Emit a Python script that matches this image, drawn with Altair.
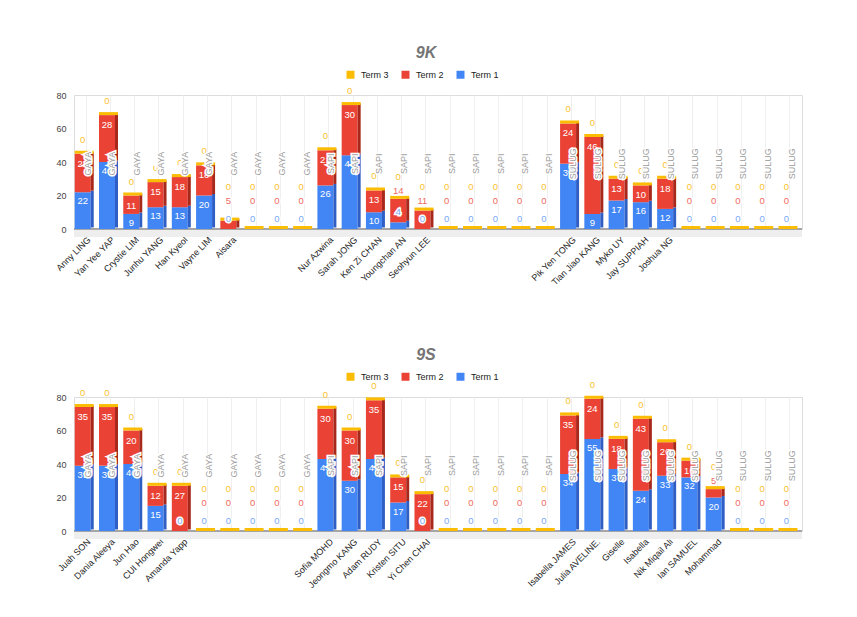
import json
import altair as alt
import pandas as pd

# ---------------- data ----------------
K_NAMES = ["Anny LING", "Yan Yee YAP", "Crystie LIM", "Junhu YANG", "Han Kyeol", "Vayne LIM", "Aisara", "", "", "",
           "Nur Azwina", "Sarah JONG", "Ken Zi CHAN", "Youngchan AN", "Seohyun LEE", "", "", "", "", "",
           "Pik Yen TONG", "Tian Jiao KANG", "Myko UY", "Jay SUPPIAH", "Joshua NG", "", "", "", "", ""]
K_TERM1 = [22, 40, 9, 13, 13, 20, 0, 0, 0, 0,
           26, 44, 10, 4, 0, 0, 0, 0, 0, 0,
           39, 9, 17, 16, 12, 0, 0, 0, 0, 0]
K_TERM2 = [23, 28, 11, 15, 18, 18, 5, 0, 0, 0,
           21, 30, 13, 14, 11, 0, 0, 0, 0, 0,
           24, 46, 13, 10, 18, 0, 0, 0, 0, 0]
K_TERM3 = [0, 0, 0, 0, 0, 0, 0, 0, 0, 0,
           0, 0, 0, 0, 0, 0, 0, 0, 0, 0,
           0, 0, 0, 0, 0, 0, 0, 0, 0, 0]
K_GROUP = ["GAYA", "GAYA", "GAYA", "GAYA", "GAYA", "GAYA", "GAYA", "GAYA", "GAYA", "GAYA",
           "SAPI", "SAPI", "SAPI", "SAPI", "SAPI", "SAPI", "SAPI", "SAPI", "SAPI", "SAPI",
           "SULUG", "SULUG", "SULUG", "SULUG", "SULUG", "SULUG", "SULUG", "SULUG", "SULUG", "SULUG"]

S_NAMES = ["Juah SON", "Dania Aleeya", "Jun Hao", "CUI Hongwei", "Amanda Yapp", "", "", "", "", "",
           "Sofia MOHD", "Jeongmo KANG", "Adam RUDY", "Kristen SITU", "Yi Chen CHAI", "", "", "", "", "",
           "Isabella JAMES", "Julia AVELINE.", "Giselle", "Isabella", "Nik Miqail Ali", "Ian SAMUEL", "Mohammad", "", "", ""]
S_TERM1 = [39, 39, 40, 15, 0, 0, 0, 0, 0, 0,
           43, 30, 43, 17, 0, 0, 0, 0, 0, 0,
           34, 55, 37, 24, 33, 32, 20, 0, 0, 0]
S_TERM2 = [35, 35, 20, 12, 27, 0, 0, 0, 0, 0,
           30, 30, 35, 15, 22, 0, 0, 0, 0, 0,
           35, 24, 18, 43, 20, 10, 5, 0, 0, 0]
S_TERM3 = [0, 0, 0, 0, 0, 0, 0, 0, 0, 0,
           0, 0, 0, 0, 0, 0, 0, 0, 0, 0,
           0, 0, 0, 0, 0, 0, 0, 0, 0, 0]
S_GROUP = ["GAYA", "GAYA", "GAYA", "GAYA", "GAYA", "GAYA", "GAYA", "GAYA", "GAYA", "GAYA",
           "SAPI", "SAPI", "SAPI", "SAPI", "SAPI", "SAPI", "SAPI", "SAPI", "SAPI", "SAPI",
           "SULUG", "SULUG", "SULUG", "SULUG", "SULUG", "SULUG", "SULUG", "SULUG", "SULUG", "SULUG"]

TERMS = ["Term 3", "Term 2", "Term 1"]
Y_TICKS = [0, 20, 40, 60, 80]

# ---------------- styles ----------------
YELLOW, RED, BLUE = "#fbbc04", "#ea4335", "#4285f4"
DARK_RED, DARK_BLUE = "#a9281c", "#2f5fc4"
LIGHT_RED, LIGHT_BLUE, LIGHT_YELLOW = "#ef6a5f", "#7aa9f7", "#fbc12e"
FONT = "Liberation Sans"
W, H = 728, 134
FRONT_W, FRONT_X = 16, -3.4
GROUP_LEVEL = 39


def panel(title, names, t1, t2, t3, groups):
    n = len(names)
    wide = pd.DataFrame({"idx": list(range(n)), "t1": t1, "t2": t2, "t3": t3, "grp": groups})
    wide["total"] = wide["t1"] + wide["t2"] + wide["t3"]
    wide["blue_in"] = wide["t1"] >= 8
    wide["red_in"] = (wide["t2"] >= 8) & (wide["blue_in"] | (wide["total"] >= wide["t1"] + 19))
    wide["red_out_y"] = wide["total"].clip(lower=12)

    segs = pd.concat([
        pd.DataFrame({"idx": wide["idx"], "term": "Term 1", "lo": 0, "hi": wide["t1"]}),
        pd.DataFrame({"idx": wide["idx"], "term": "Term 2", "lo": wide["t1"], "hi": wide["t1"] + wide["t2"]}),
    ], ignore_index=True)

    label_expr = json.dumps(names) + "[datum.value]"
    x_axis = alt.Axis(labelExpr=label_expr, labelAngle=-45, labelFontSize=9,
                      labelColor="#222222", ticks=False, domain=False,
                      grid=True, gridColor="#efefef", labelPadding=6,
                      labelFont=FONT, labelOverlap=False)
    x_scale = alt.Scale(paddingInner=0, paddingOuter=0)
    x_enc = alt.X("idx:O", title=None, scale=x_scale, axis=x_axis)
    y_scale = alt.Scale(domain=[0, 80], nice=False)
    y_axis = alt.Axis(values=Y_TICKS, labelFontSize=9, labelColor="#444444", ticks=False,
                      domain=False, gridColor="#e3e3e3", gridWidth=1.5, labelPadding=8,
                      labelFont=FONT, labelOverlap=False)

    def Y(field):
        return alt.Y(field, title=None, scale=y_scale, axis=y_axis)

    def YD(v):
        return alt.YDatum(v, type="quantitative", title=None, scale=y_scale, axis=y_axis)

    base_w = alt.Chart(wide)
    base_s = alt.Chart(segs)

    floor_light = base_w.mark_rule(color="#eeeeee", strokeWidth=7, yOffset=4).encode(y=YD(0))
    floor = base_w.mark_rule(color="#a6a6a6", strokeWidth=2).encode(y=YD(0))

    front = base_s.mark_bar(width=FRONT_W, xOffset=FRONT_X).encode(
        x=x_enc, y=Y("lo:Q"), y2="hi:Q",
        color=alt.Color("term:N", scale=alt.Scale(domain=TERMS, range=[YELLOW, RED, BLUE]),
                        legend=alt.Legend(orient="none", legendX=272, legendY=-25,
                                          direction="horizontal", title=None,
                                          symbolType="square", symbolSize=64,
                                          symbolStrokeWidth=0, labelFontSize=9,
                                          labelColor="#222222", labelFont=FONT,
                                          columnPadding=12, labelOffset=6)))
    side = base_s.mark_bar(width=3, xOffset=FRONT_X + FRONT_W / 2 + 1.5, yOffset=-1.5,
                           y2Offset=-1.5).encode(
        x=x_enc, y=Y("lo:Q"), y2="hi:Q",
        color=alt.condition(alt.datum.term == "Term 1", alt.value(DARK_BLUE), alt.value(DARK_RED)))
    cap = base_w.mark_tick(color=YELLOW, thickness=3, size=FRONT_W + 3, opacity=1,
                           xOffset=FRONT_X + 1.5, yOffset=-1.5).encode(
        x=x_enc, y=Y("total:Q"))

    txt = dict(fontSize=9.5, font=FONT, baseline="middle", align="center", xOffset=FRONT_X)

    blue_in = base_w.transform_filter("datum.blue_in").mark_text(color="white", dy=9, **txt).encode(
        x=x_enc, y=Y("t1:Q"), text="t1:Q")
    blue_out_halo = base_w.transform_filter("!datum.blue_in").mark_text(
        color="white", stroke="white", strokeWidth=3, dy=-10, **txt).encode(
        x=x_enc, y=Y("t1:Q"), text="t1:Q")
    blue_out = base_w.transform_filter("!datum.blue_in").mark_text(color=LIGHT_BLUE, dy=-10, **txt).encode(
        x=x_enc, y=Y("t1:Q"), text="t1:Q")
    red_in = base_w.transform_filter("datum.red_in").mark_text(color="white", dy=10, **txt).encode(
        x=x_enc, y=Y("total:Q"), text="t2:Q")
    red_out_halo = base_w.transform_filter("!datum.red_in").mark_text(
        color="white", stroke="white", strokeWidth=3, dy=-8, **txt).encode(
        x=x_enc, y=Y("red_out_y:Q"), text="t2:Q")
    red_out = base_w.transform_filter("!datum.red_in").mark_text(color=LIGHT_RED, dy=-8, **txt).encode(
        x=x_enc, y=Y("red_out_y:Q"), text="t2:Q")
    yel_a = base_w.transform_filter("datum.red_in").mark_text(color=LIGHT_YELLOW, dy=-14, **txt).encode(
        x=x_enc, y=Y("total:Q"), text="t3:Q")
    yel_b = base_w.transform_filter("!datum.red_in").mark_text(color=LIGHT_YELLOW, dy=-22, **txt).encode(
        x=x_enc, y=Y("red_out_y:Q"), text="t3:Q")

    gtxt = dict(fontSize=9, font=FONT, baseline="middle", align="center", angle=270, xOffset=2)
    grp_halo = base_w.mark_text(color="white", stroke="white", strokeWidth=3, **gtxt).encode(
        x=x_enc, y=YD(GROUP_LEVEL), text="grp:N")
    grp = base_w.mark_text(color="#9a9a9a", **gtxt).encode(
        x=x_enc, y=YD(GROUP_LEVEL), text="grp:N")

    return alt.layer(
        floor_light, floor, front, side, cap,
        blue_in, blue_out_halo, blue_out, red_in, red_out_halo, red_out, yel_a, yel_b,
        grp_halo, grp,
    ).properties(
        width=W, height=H,
        title=alt.TitleParams(title, fontSize=16, fontStyle="italic", fontWeight="bold",
                              color="#757575", anchor="middle", dx=-12, offset=9, font=FONT),
    )


p1 = panel("9K", K_NAMES, K_TERM1, K_TERM2, K_TERM3, K_GROUP)
p2 = panel("9S", S_NAMES, S_TERM1, S_TERM2, S_TERM3, S_GROUP)

chart = alt.vconcat(p1, p2, spacing=58).resolve_scale(
    color="independent", x="independent", y="independent"
).resolve_legend(color="independent").configure_view(stroke=None).properties(
    padding={"left": 46, "top": 36, "right": 6, "bottom": 5}
).configure(font=FONT)

chart.save("out.html", embed_options={"renderer": "svg", "actions": False})
